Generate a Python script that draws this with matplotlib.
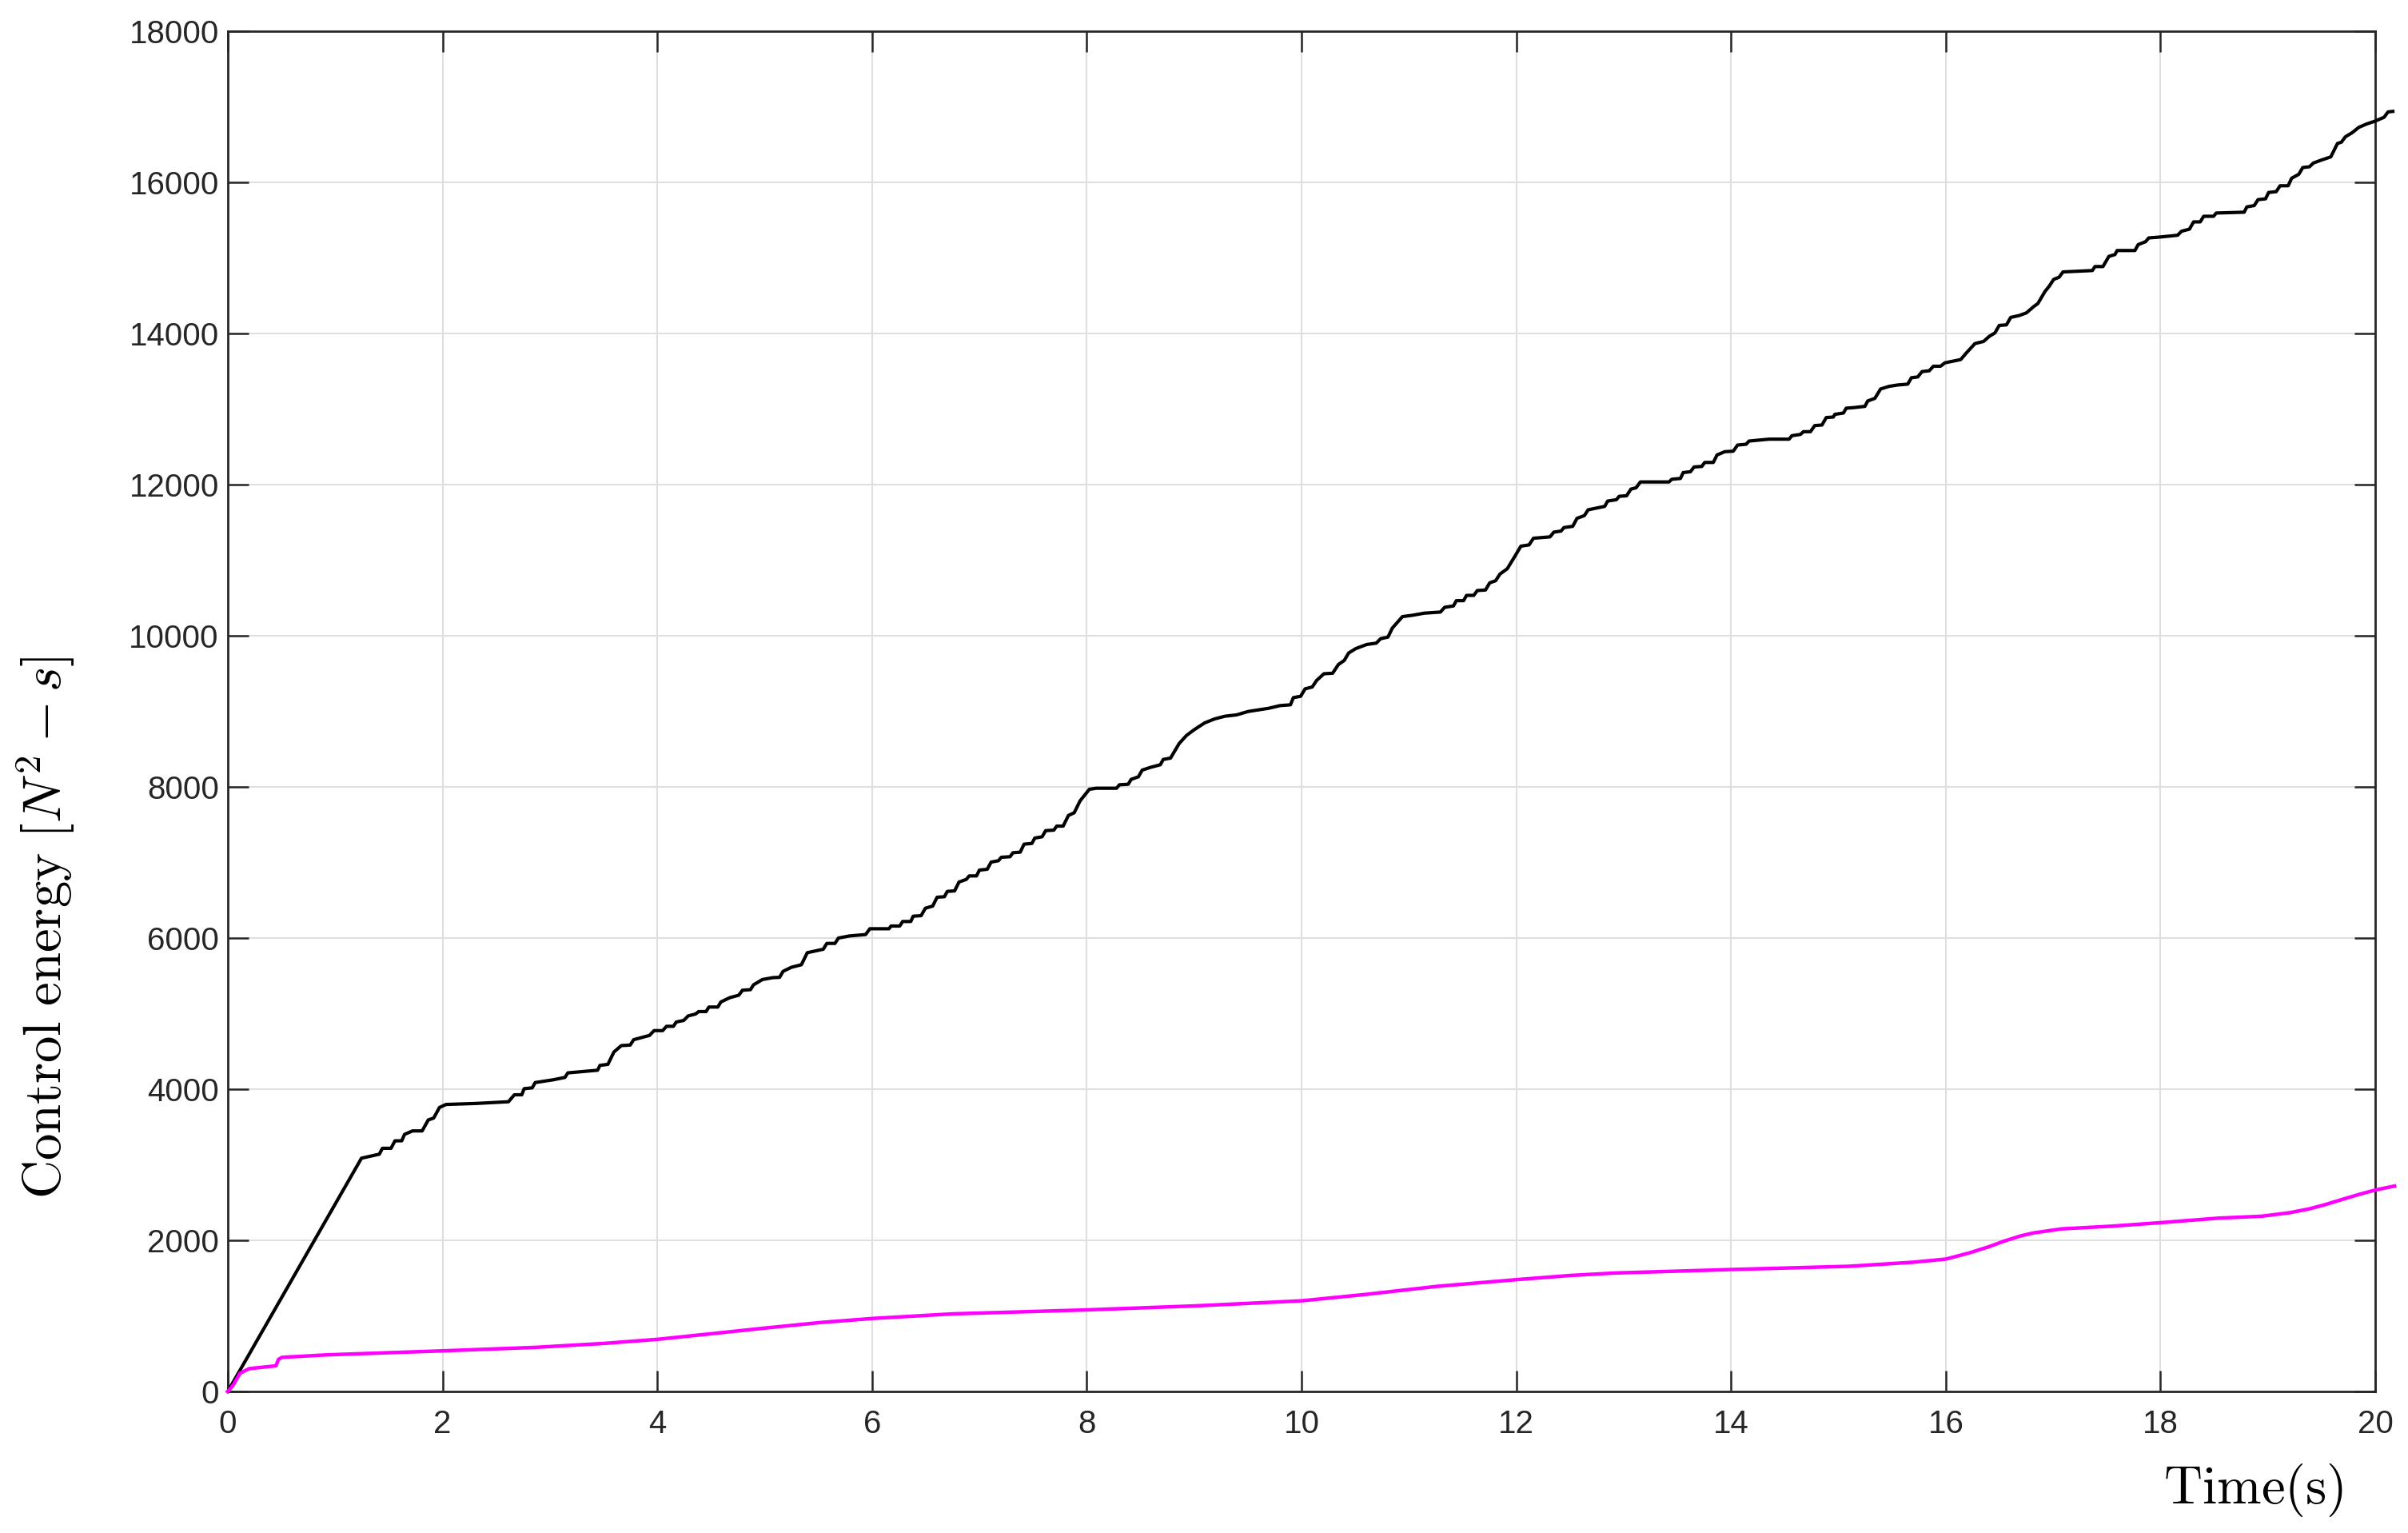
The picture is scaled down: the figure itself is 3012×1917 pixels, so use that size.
import numpy as np
import matplotlib.pyplot as plt

# cumulative control energy
# black: staircase-like curve (corner points)
t_black = [0.0, 1.245, 1.411, 1.44, 1.52, 1.557, 1.62, 1.646, 1.72, 1.81, 1.867, 1.917,
           1.972, 2.033, 2.32, 2.614, 2.669, 2.738, 2.76, 2.835, 2.863, 3.029, 3.14, 3.167,
           3.333, 3.444, 3.466, 3.54, 3.596, 3.665, 3.748, 3.78, 3.928, 3.97, 4.05, 4.086,
           4.15, 4.177, 4.246, 4.288, 4.357, 4.385, 4.454, 4.481, 4.564, 4.592, 4.675,
           4.758, 4.794, 4.868, 4.896, 4.979, 5.076, 5.139, 5.171, 5.247, 5.342, 5.397,
           5.546, 5.579, 5.655, 5.687, 5.791, 5.94, 5.98, 6.158, 6.177, 6.258, 6.285,
           6.361, 6.383, 6.457, 6.497, 6.565, 6.606, 6.674, 6.701, 6.769, 6.81, 6.878,
           6.905, 6.973, 7.0, 7.073, 7.109, 7.177, 7.204, 7.285, 7.313, 7.38, 7.416,
           7.489, 7.516, 7.584, 7.617, 7.693, 7.72, 7.78, 7.829, 7.883, 7.938, 8.024,
           8.087, 8.277, 8.304, 8.386, 8.413, 8.481, 8.516, 8.59, 8.685, 8.712, 8.78,
           8.861, 8.929, 9.003, 9.098, 9.192, 9.287, 9.396, 9.504, 9.694, 9.802, 9.897,
           9.924, 9.992, 10.033, 10.1, 10.141, 10.209, 10.29, 10.344, 10.398, 10.439,
           10.507, 10.607, 10.696, 10.737, 10.805, 10.846, 10.94, 11.035, 11.144, 11.293,
           11.333, 11.415, 11.442, 11.509, 11.537, 11.604, 11.637, 11.713, 11.753, 11.808,
           11.848, 11.916, 11.984, 12.043, 12.119, 12.16, 12.314, 12.35, 12.417, 12.444,
           12.526, 12.566, 12.634, 12.669, 12.824, 12.851, 12.932, 12.959, 13.027, 13.068,
           13.116, 13.156, 13.422, 13.449, 13.529, 13.555, 13.622, 13.656, 13.728, 13.755,
           13.835, 13.87, 13.941, 14.021, 14.061, 14.141, 14.168, 14.248, 14.354, 14.541,
           14.567, 14.647, 14.674, 14.74, 14.78, 14.847, 14.887, 14.953, 14.967, 15.047,
           15.073, 15.14, 15.247, 15.273, 15.34, 15.393, 15.473, 15.553, 15.646, 15.68,
           15.739, 15.779, 15.846, 15.885, 15.952, 15.992, 16.139, 16.192, 16.272, 16.352,
           16.405, 16.458, 16.498, 16.565, 16.605, 16.684, 16.751, 16.818, 16.858, 16.924,
           16.964, 17.005, 17.055, 17.092, 17.365, 17.39, 17.464, 17.519, 17.576, 17.596,
           17.762, 17.792, 17.861, 17.891, 17.985, 18.159, 18.196, 18.27, 18.308, 18.37,
           18.402, 18.494, 18.519, 18.779, 18.804, 18.873, 18.908, 18.978, 19.007, 19.077,
           19.114, 19.189, 19.221, 19.288, 19.325, 19.387, 19.424, 19.499, 19.586, 19.648,
           19.685, 19.722, 19.784, 19.846, 19.921, 19.995, 20.082, 20.119, 20.164]
e_black = [0, 3087, 3140, 3218, 3218, 3317, 3317, 3402, 3448, 3448, 3593, 3618,
           3759, 3798, 3812, 3834, 3926, 3926, 4007, 4018, 4088, 4124, 4156, 4216,
           4237, 4251, 4315, 4329, 4492, 4577, 4584, 4655, 4712, 4775, 4775, 4832,
           4832, 4889, 4910, 4970, 4995, 5027, 5027, 5087, 5087, 5154, 5211,
           5243, 5310, 5317, 5381, 5451, 5476, 5480, 5559, 5612, 5647, 5806,
           5852, 5929, 5929, 6000, 6028, 6046, 6123, 6123, 6159, 6159, 6219,
           6219, 6289, 6296, 6395, 6423, 6540, 6547, 6617, 6624, 6741, 6776,
           6822, 6822, 6899, 6910, 7005, 7023, 7069, 7076, 7129, 7136, 7242,
           7252, 7323, 7340, 7421, 7428, 7481, 7481, 7622, 7658, 7816, 7968,
           7982, 7982, 8028, 8035, 8099, 8134, 8222, 8257, 8293, 8363, 8381,
           8575, 8681, 8759, 8847, 8900, 8935, 8953, 8998, 9040, 9076, 9086,
           9181, 9199, 9297, 9322, 9409, 9497, 9504, 9620, 9673, 9772,
           9831, 9884, 9902, 9961, 9982, 10102, 10253, 10271, 10299, 10313,
           10376, 10394, 10464, 10464, 10534, 10534, 10598, 10605, 10700, 10728,
           10816, 10886, 11044, 11185, 11202, 11290, 11308, 11371, 11385, 11431,
           11448, 11554, 11589, 11666, 11712, 11782, 11800, 11845, 11852, 11940,
           11958, 12035, 12035, 12071, 12081, 12159, 12170, 12233, 12240, 12293,
           12293, 12392, 12435, 12442, 12523, 12534, 12576, 12587, 12601, 12601,
           12647, 12664, 12700, 12700, 12781, 12788, 12887, 12894, 12929, 12947,
           13011, 13018, 13035, 13106, 13141, 13265, 13300, 13318, 13329, 13414,
           13424, 13495, 13506, 13566, 13566, 13611, 13654, 13742, 13866, 13894,
           13961, 14007, 14106, 14113, 14212, 14237, 14272, 14354, 14396, 14555,
           14626, 14715, 14743, 14814, 14832, 14885, 14885, 15019, 15044, 15097,
           15097, 15175, 15214, 15264, 15274, 15299, 15352, 15380, 15476, 15476,
           15550, 15550, 15593, 15604, 15674, 15692, 15770, 15781, 15865, 15876,
           15954, 15954, 16053, 16106, 16195, 16205, 16255, 16294, 16336, 16513,
           16531, 16602, 16655, 16726, 16772, 16807, 16860, 16931, 16938]

# magenta: smooth curve
t_mag = [0.0, 0.052, 0.114, 0.2, 0.31, 0.448, 0.472, 0.505, 0.925, 2.0, 2.866, 3.51,
         4.0, 4.48, 5.0, 5.52, 6.0, 6.747, 8.0, 9.01, 10.0, 10.6, 11.26, 12.0, 12.5,
         12.92, 14.0, 15.1, 15.69, 16.0, 16.22, 16.4, 16.55, 16.7, 16.82, 17.08, 17.55,
         18.0, 18.54, 18.94, 19.2, 19.38, 19.53, 19.7, 19.86, 20.0, 20.18]
e_mag = [0, 88, 242, 303, 319, 340, 425, 452, 485, 538, 584, 637,
         690, 761, 839, 913, 966, 1027, 1080, 1133, 1200, 1285, 1391, 1480, 1535,
         1568, 1614, 1657, 1710, 1752, 1834, 1915, 1993, 2060, 2099, 2152, 2188,
         2234, 2294, 2319, 2365, 2415, 2471, 2545, 2612, 2666, 2719]

x_ticks = np.arange(0, 21, 2)
y_ticks = np.arange(0, 18001, 2000)

plt.rcParams['mathtext.fontset'] = 'cm'
plt.rcParams['font.family'] = ['Liberation Sans', 'DejaVu Sans']

fig = plt.figure(figsize=(15.06, 9.585), dpi=200)
ax = fig.add_axes([0.0946, 0.0923, 0.9864 - 0.0946, 0.9797 - 0.0923])

ax.plot(t_black, e_black, color='black', lw=1.5, clip_on=False, zorder=3)
ax.plot(t_mag, e_mag, color='#ff00ff', lw=1.6, clip_on=False, zorder=3)

ax.set_xlim(0, 20)
ax.set_ylim(0, 18000)
ax.set_xticks(x_ticks)
ax.set_yticks(y_ticks)
ax.grid(True, color='#dfdfdf', lw=0.75)
ax.set_axisbelow(True)

ax.tick_params(direction='in', length=9.5, width=0.9, color='#262626',
               labelcolor='#262626', labelsize=14.5, top=True, right=True)
ax.tick_params(axis='x', pad=8)
ax.tick_params(axis='y', pad=4)
for s in ax.spines.values():
    s.set_color('#262626')
    s.set_linewidth(1.0)

ax.set_xlabel(r'$\mathrm{Time(s)}$', fontsize=24)
ax.xaxis.set_label_coords(0.9434, -0.0726)
ax.xaxis.label.set_va('center')
ax.set_ylabel(r'$\mathrm{Control\ energy}\ [N^2 - s]$', fontsize=24)
ax.yaxis.set_label_coords(-0.0849, 0.341)
ax.yaxis.label.set_va('center')

fig.savefig('out.png', dpi=200)
